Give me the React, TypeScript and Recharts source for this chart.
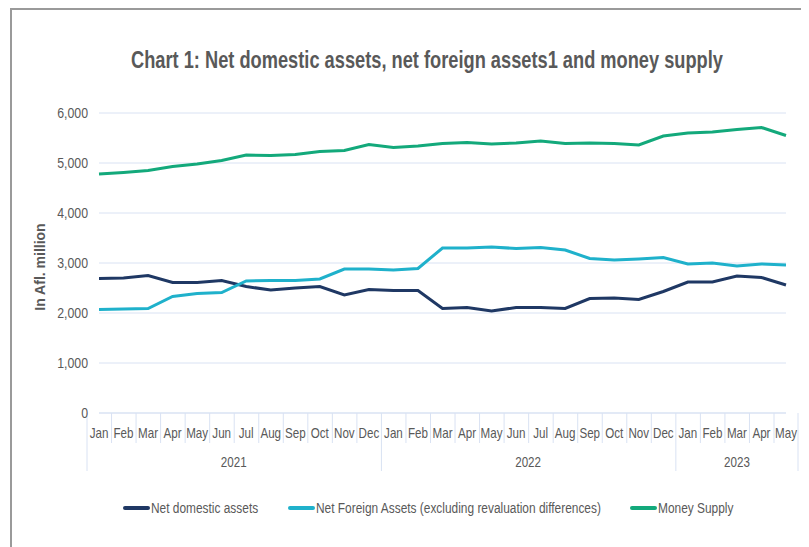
import { LineChart, Line, XAxis, YAxis, CartesianGrid } from "recharts";

const months = [
  "Jan", "Feb", "Mar", "Apr", "May", "Jun", "Jul", "Aug", "Sep", "Oct", "Nov", "Dec",
  "Jan", "Feb", "Mar", "Apr", "May", "Jun", "Jul", "Aug", "Sep", "Oct", "Nov", "Dec",
  "Jan", "Feb", "Mar", "Apr", "May",
];
const years = [
  { label: "2021", start: 0, count: 12 },
  { label: "2022", start: 12, count: 12 },
  { label: "2023", start: 24, count: 5 },
];
const netDomestic = [
  2690, 2700, 2750, 2610, 2610, 2650, 2530, 2460, 2500, 2530, 2360, 2470,
  2450, 2450, 2090, 2110, 2040, 2110, 2110, 2090, 2290, 2300, 2270, 2430,
  2620, 2620, 2740, 2710, 2560,
];
const netForeign = [
  2070, 2080, 2090, 2330, 2390, 2410, 2640, 2650, 2650, 2680, 2880, 2880,
  2860, 2890, 3300, 3300, 3320, 3290, 3310, 3260, 3090, 3060, 3080, 3110,
  2980, 3000, 2940, 2980, 2960,
];
const moneySupply = [
  4780, 4810, 4850, 4930, 4980, 5050, 5160, 5150, 5170, 5230, 5250, 5370,
  5310, 5340, 5390, 5410, 5380, 5400, 5440, 5390, 5400, 5390, 5360, 5540,
  5600, 5620, 5670, 5710, 5550,
];
const yTicks = [0, 1000, 2000, 3000, 4000, 5000, 6000];

const series = [
  { key: "nda", name: "Net domestic assets", color: "#1f3864" },
  { key: "nfa", name: "Net Foreign Assets (excluding revaluation differences)", color: "#1fb1cb" },
  { key: "ms", name: "Money Supply", color: "#13a97b" },
];

const data = months.map((m, i) => ({
  month: m,
  nda: netDomestic[i],
  nfa: netForeign[i],
  ms: moneySupply[i],
}));

const FONT = '"Liberation Sans", Arial, sans-serif';
const TEXT = "#595959";
const GRID = "#d9e2f3";

// the source uses a condensed face, so squeeze Liberation Sans horizontally
function MonthTick(props: any) {
  const { x, y, payload, index } = props;
  const half = payload && payload.offset ? payload.offset : 12;
  const yr = years.find((g) => index >= g.start && index < g.start + g.count)!;
  const isYearStart = index === yr.start;
  const mid = yr.start + (yr.count - 1) / 2;
  const showYear = index === Math.floor(mid);
  const yearX = x + (mid - index) * 2 * half;
  const last = index === months.length - 1;
  return (
    <g>
      <line
        x1={x - half}
        x2={x - half}
        y1={y}
        y2={y + (isYearStart ? 58 : 30)}
        stroke={GRID}
      />
      {last && <line x1={x + half} x2={x + half} y1={y} y2={y + 58} stroke={GRID} />}
      <text
        transform={`translate(${x} ${y + 25}) scale(0.8 1)`}
        textAnchor="middle"
        fill={TEXT}
        fontSize={14.5}
        fontFamily={FONT}
      >
        {payload.value}
      </text>
      {showYear && (
        <text
          transform={`translate(${yearX} ${y + 54}) scale(0.8 1)`}
          textAnchor="middle"
          fill={TEXT}
          fontSize={14.5}
          fontFamily={FONT}
        >
          {yr.label}
        </text>
      )}
    </g>
  );
}

function ValueTick(props: any) {
  const { x, y, payload } = props;
  return (
    <text
      transform={`translate(${x} ${y + 5}) scale(0.85 1)`}
      textAnchor="end"
      fill={TEXT}
      fontSize={14.5}
      fontFamily={FONT}
    >
      {Number(payload.value).toLocaleString("en-US")}
    </text>
  );
}

export default function App() {
  return (
    <div style={{ position: "relative", width: 801, height: 539, background: "#fff" }}>
      <div
        style={{
          position: "absolute",
          left: 2,
          top: 0,
          width: 801,
          height: 539,
          borderTop: "2px solid #9a9a9a",
          borderLeft: "2px solid #9a9a9a",
        }}
      />
      <div
        style={{
          position: "absolute",
          left: 0,
          width: 838,
          top: 38,
          textAlign: "center",
          fontFamily: FONT,
          fontWeight: "bold",
          fontSize: 24,
          color: TEXT,
          whiteSpace: "nowrap",
          transform: "scaleX(0.76)",
          transformOrigin: "center",
        }}
      >
        Chart 1: Net domestic assets, net foreign assets1 and money supply
      </div>
      <div
        style={{
          position: "absolute",
          left: 32,
          top: 259,
          transform: "translate(-50%, -50%) rotate(-90deg)",
          whiteSpace: "nowrap",
          fontFamily: FONT,
          fontWeight: "bold",
          fontSize: 14,
          color: TEXT,
        }}
      >
        In Afl. million
      </div>
      <div style={{ position: "absolute", left: 0, top: 0 }}>
        <LineChart
          width={801}
          height={539}
          data={data}
          margin={{ top: 105, right: 23, left: 31, bottom: 64 }}
        >
          <CartesianGrid vertical={false} stroke={GRID} />
          <XAxis
            dataKey="month"
            interval={0}
            tickLine={false}
            tickSize={0}
            tickMargin={0}
            axisLine={{ stroke: GRID }}
            height={70}
            tick={<MonthTick />}
          />
          <YAxis
            width={60}
            domain={[0, 6000]}
            ticks={yTicks}
            axisLine={false}
            tickLine={false}
            tickMargin={5}
            tick={<ValueTick />}
          />
          {series.map((s) => (
            <Line
              key={s.key}
              type="linear"
              dataKey={s.key}
              name={s.name}
              stroke={s.color}
              strokeWidth={3}
              dot={false}
              activeDot={false}
              isAnimationActive={false}
            />
          ))}
        </LineChart>
      </div>
      <div
        style={{
          position: "absolute",
          top: 492,
          left: 0,
          width: 801,
          fontFamily: FONT,
          fontSize: 14,
          color: TEXT,
        }}
      >
        {series.map((s, i) => (
          <div
            key={s.key}
            style={{
              position: "absolute",
              left: [115, 280, 622][i],
              display: "flex",
              alignItems: "center",
              whiteSpace: "nowrap",
            }}
          >
            <span
              style={{
                display: "inline-block",
                width: 27,
                height: 4,
                borderRadius: 2,
                background: s.color,
                marginRight: 1,
              }}
            />
            <span style={{ display: "inline-block", transform: "scaleX(0.85)", transformOrigin: "left center" }}>
              {s.name}
            </span>
          </div>
        ))}
      </div>
    </div>
  );
}
